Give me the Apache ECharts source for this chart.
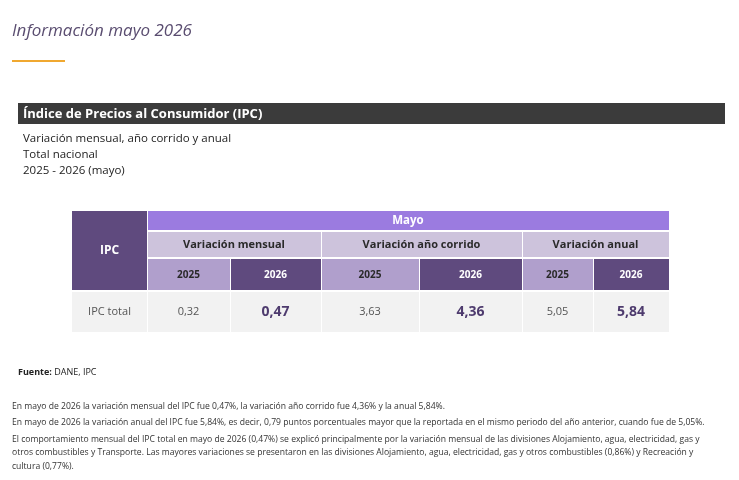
<!DOCTYPE html>
<html>
<head>
<meta charset="utf-8">
<script src="https://cdn.jsdelivr.net/npm/echarts@6/dist/echarts.min.js"></script>
<style>
  html, body { margin: 0; padding: 0; background: #fff; }
  #ipc_table { width: 739px; height: 480px; }
</style>
</head>
<body>
<div id="ipc_table"></div>
<script>
(function () {
  'use strict';

  var FONT = '"Open Sans", "Noto Sans", sans-serif';

  // Table data
  var ipcData = {
    label: 'IPC total',
    groups: ['Variación mensual', 'Variación año corrido', 'Variación anual'],
    years: ['2025', '2026'],
    values: [[0.32, 0.47], [3.63, 4.36], [5.05, 5.84]]
  };

  // column edges (px)
  var cols = [72, 147, 230, 321, 419, 522, 593, 669];

  var notes = [
    'En mayo de 2026 la variación mensual del IPC fue 0,47%, la variación año corrido fue 4,36% y la anual 5,84%.',
    'En mayo de 2026 la variación anual del IPC fue 5,84%, es decir, 0,79 puntos porcentuales mayor que la reportada en el mismo periodo del año anterior, cuando fue de 5,05%.',
    'El comportamiento mensual del IPC total en mayo de 2026 (0,47%) se explicó principalmente por la variación mensual de las divisiones Alojamiento, agua, electricidad, gas y',
    'otros combustibles y Transporte. Las mayores variaciones se presentaron en las divisiones Alojamiento, agua, electricidad, gas y otros combustibles (0,86%) y Recreación y',
    'cultura (0,77%).'
  ];
  var noteY = [407, 423, 440, 453, 467];

  function fmt(v) { return v.toFixed(2).replace('.', ','); }

  function rect(x, y, w, h, color) {
    return { type: 'rect', shape: { x: x, y: y, width: w, height: h }, style: { fill: color } };
  }
  function txt(x, y, s, size, color, weight, align, italic) {
    return {
      type: 'text', x: x, y: y,
      style: {
        text: s, fill: color, font: (italic ? 'italic ' : '') + (weight || 'normal') + ' ' + size + 'px ' + FONT,
        align: align || 'left', verticalAlign: 'middle'
      }
    };
  }

  var els = [];

  // heading
  els.push(txt(12, 31, 'Información mayo 2026', 17, '#5a4d70', 'normal', 'left', true));
  els.push(rect(12, 60, 53, 2, '#f0a830'));
  els.push(rect(18, 103, 707, 21, '#3b3b3b'));
  els.push(txt(23, 114, 'Índice de Precios al Consumidor (IPC)', 13, '#fff', 'bold'));
  els.push(txt(23, 139, 'Variación mensual, año corrido y anual', 11.5, '#222'));
  els.push(txt(23, 155, 'Total nacional', 11.5, '#222'));
  els.push(txt(23, 171, '2025 - 2026 (mayo)', 11.5, '#222'));

  // table header
  els.push(rect(cols[0], 211, cols[1] - cols[0], 79, '#5f4a7e'));
  els.push(txt((cols[0] + cols[1]) / 2, 251, 'IPC', 12, '#fff', 'bold', 'center'));
  els.push(rect(cols[1] + 1, 211, cols[7] - cols[1] - 1, 19, '#9b7be0'));
  els.push(txt((cols[1] + cols[7]) / 2, 221, 'Mayo', 11.5, '#fff', 'bold', 'center'));

  ipcData.groups.forEach(function (g, i) {
    var x0 = cols[1 + i * 2], x2 = cols[3 + i * 2];
    els.push(rect(x0 + 1, 232, x2 - x0 - 1, 25, '#cdc3dc'));
    els.push(txt((x0 + x2) / 2, 245, g, 11, '#2a2a2a', 'bold', 'center'));
    ipcData.years.forEach(function (yr, j) {
      var a = cols[1 + i * 2 + j], b = cols[2 + i * 2 + j];
      var dark = j === 1;
      els.push(rect(a + 1, 259, b - a - 1, 31, dark ? '#5f4a7e' : '#b09fcc'));
      els.push(txt((a + b) / 2, 275, yr, 10, dark ? '#fff' : '#2a2a2a', 'bold', 'center'));
      var v = ipcData.values[i][j];
      els.push(rect(a + 1, 292, b - a - 1, 40, '#f2f2f2'));
      els.push(txt((a + b) / 2, 312, fmt(v), dark ? 14 : 11, dark ? '#4e3b6e' : '#555', dark ? 'bold' : 'normal', 'center'));
    });
  });
  els.push(rect(cols[0], 292, cols[1] - cols[0], 40, '#f2f2f2'));
  els.push(txt((cols[0] + cols[1]) / 2, 312, ipcData.label, 11, '#555', 'normal', 'center'));

  // footnotes
  els.push({
    type: 'text', x: 18, y: 372,
    style: {
      text: '{b|Fuente:} DANE, IPC', verticalAlign: 'middle',
      font: '9px ' + FONT, fill: '#222',
      rich: { b: { fontWeight: 'bold', fontSize: 9, fontFamily: FONT, fill: '#222' } }
    }
  });
  notes.forEach(function (n, i) { els.push(txt(12, noteY[i], n, 8.6, '#333')); });

  var myChart = echarts.init(document.getElementById('ipc_table'));
  myChart.setOption({ backgroundColor: '#fff', graphic: { elements: els } });
})();
</script>
</body>
</html>
